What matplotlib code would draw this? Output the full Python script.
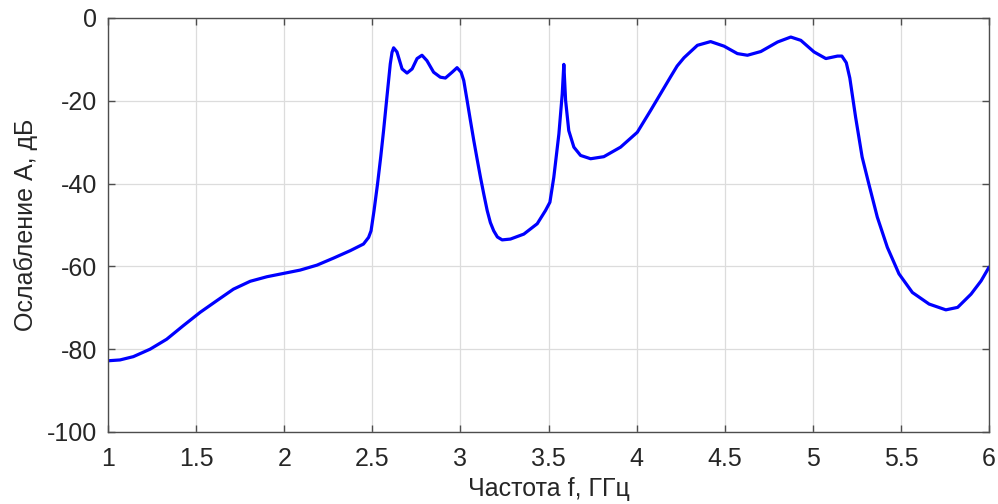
import matplotlib
matplotlib.use("Agg")
import matplotlib.pyplot as plt

freq = [1.000, 1.068, 1.144, 1.239, 1.333, 1.428, 1.523, 1.617, 1.712, 1.807, 1.902, 1.996,
        2.090, 2.186, 2.280, 2.375, 2.450, 2.479, 2.493, 2.510, 2.530, 2.548, 2.564, 2.583,
        2.602, 2.612, 2.621, 2.640, 2.669, 2.697, 2.726, 2.754, 2.782, 2.810, 2.848, 2.886,
        2.915, 2.953, 2.981, 3.004, 3.019, 3.038, 3.057, 3.076, 3.095, 3.114, 3.133, 3.152,
        3.170, 3.189, 3.210, 3.237, 3.284, 3.360, 3.436, 3.483, 3.508, 3.530, 3.559, 3.578,
        3.587, 3.597, 3.615, 3.644, 3.682, 3.739, 3.814, 3.909, 4.004, 4.080, 4.140, 4.193,
        4.230, 4.269, 4.345, 4.420, 4.496, 4.572, 4.629, 4.705, 4.800, 4.875, 4.932, 5.007,
        5.074, 5.140, 5.165, 5.190, 5.210, 5.243, 5.280, 5.318, 5.366, 5.423, 5.489, 5.565,
        5.660, 5.755, 5.822, 5.898, 5.955, 6.000]
atten = [-82.8, -82.6, -81.8, -80.0, -77.6, -74.3, -71.1, -68.3, -65.5, -63.6, -62.5, -61.7,
         -60.9, -59.7, -58.0, -56.2, -54.6, -53.0, -51.4, -46.5, -40.0, -33.5, -27.2, -19.1,
         -11.1, -8.3, -7.2, -8.2, -12.3, -13.3, -12.3, -9.8, -9.0, -10.3, -13.1, -14.3,
         -14.5, -13.1, -12.0, -13.1, -15.1, -19.9, -24.8, -29.6, -34.1, -38.5, -42.6, -46.5,
         -49.4, -51.4, -52.9, -53.6, -53.4, -52.2, -49.7, -46.5, -44.5, -38.5, -28.0, -18.3,
         -11.2, -19.9, -27.2, -31.2, -33.2, -34.0, -33.5, -31.2, -27.6, -22.3, -18.0, -14.2,
         -11.6, -9.6, -6.6, -5.7, -6.8, -8.6, -9.0, -8.1, -5.8, -4.6, -5.4, -8.2,
         -9.8, -9.2, -9.2, -10.8, -14.5, -24.0, -33.6, -40.1, -48.1, -55.4, -61.8, -66.3,
         -69.1, -70.5, -69.9, -66.7, -63.5, -60.2]

xticks = [1, 1.5, 2, 2.5, 3, 3.5, 4, 4.5, 5, 5.5, 6]
xticklabels = ["1", "1.5", "2", "2.5", "3", "3.5", "4", "4.5", "5", "5.5", "6"]
yticks = [-100, -80, -60, -40, -20, 0]
yticklabels = ["-100", "-80", "-60", "-40", "-20", "0"]

plt.rcParams['font.family'] = ['Liberation Sans', 'DejaVu Sans']

fig = plt.figure(figsize=(9.98, 5.04), dpi=100)
ax = fig.add_axes([0.1082, 0.1429, 0.8828, 0.8214])
ax.plot(freq, atten, color=(0, 0, 1), linewidth=2.3, solid_joinstyle='round',
        solid_capstyle='round')
ax.set_xlim(1, 6)
ax.set_ylim(-100, 0)
ax.set_xticks(xticks)
ax.set_xticklabels(xticklabels)
ax.set_yticks(yticks)
ax.set_yticklabels(yticklabels)
ax.grid(True, color='#dcdcdc', linewidth=0.9)
ax.set_axisbelow(True)
for s in ax.spines.values():
    s.set_color('#4d4d4d')
    s.set_linewidth(1.0)
ax.tick_params(direction='in', length=5, width=1, color='#4d4d4d',
               top=True, right=True, labelsize=18, labelcolor='#262626')
ax.tick_params(axis='x', pad=11)
ax.tick_params(axis='y', pad=8)
ax.set_xlabel('Частота f, ГГц', fontsize=18, color='#262626', labelpad=4)
ax.set_ylabel('Ослабление А, дБ', fontsize=18, color='#262626', labelpad=6)
fig.savefig('out.png', dpi=100)
